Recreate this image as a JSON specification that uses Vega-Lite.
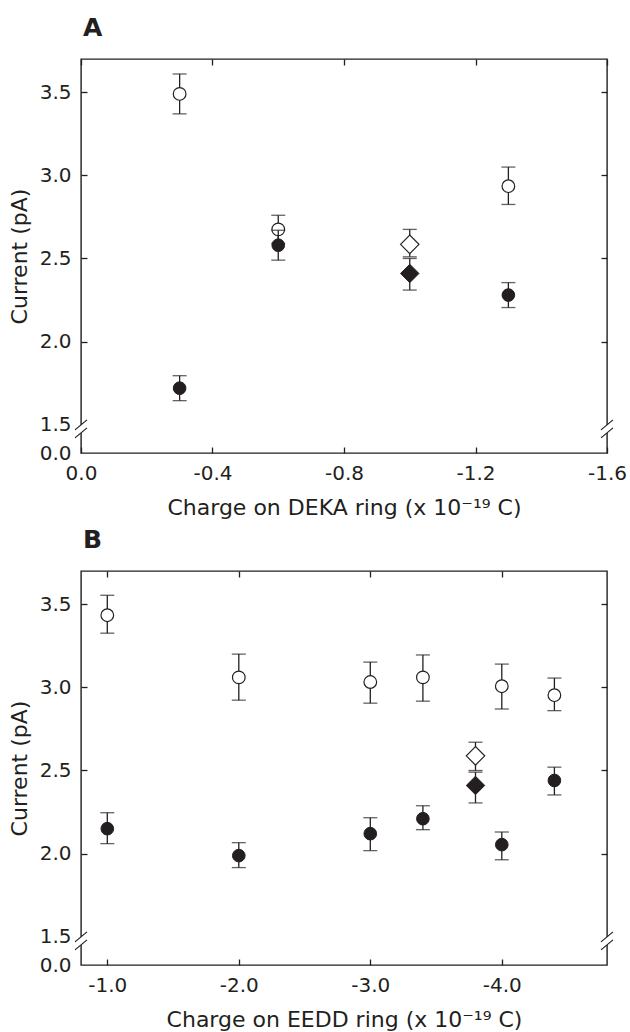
{
  "$schema": "https://vega.github.io/schema/vega-lite/v6.json",
  "padding": {"left": 7, "top": 15, "right": 5, "bottom": 0},
  "spacing": 8,
  "datasets": {
    "pts": [
      {"panel": "A", "x": -0.3, "cur": 3.49, "lo": 3.37, "hi": 3.61, "fill": "open", "shape": "circle"},
      {"panel": "A", "x": -0.6, "cur": 2.675, "lo": 2.59, "hi": 2.76, "fill": "open", "shape": "circle"},
      {"panel": "A", "x": -1.0, "cur": 2.585, "lo": 2.51, "hi": 2.675, "fill": "open", "shape": "diamond"},
      {"panel": "A", "x": -1.3, "cur": 2.935, "lo": 2.825, "hi": 3.05, "fill": "open", "shape": "circle"},
      {"panel": "A", "x": -0.3, "cur": 1.72, "lo": 1.645, "hi": 1.795, "fill": "closed", "shape": "circle"},
      {"panel": "A", "x": -0.6, "cur": 2.58, "lo": 2.49, "hi": 2.67, "fill": "closed", "shape": "circle"},
      {"panel": "A", "x": -1.0, "cur": 2.41, "lo": 2.31, "hi": 2.5, "fill": "closed", "shape": "diamond"},
      {"panel": "A", "x": -1.3, "cur": 2.28, "lo": 2.205, "hi": 2.355, "fill": "closed", "shape": "circle"},
      {"panel": "B", "x": -1.0, "cur": 3.434, "lo": 3.326, "hi": 3.554, "fill": "open", "shape": "circle"},
      {"panel": "B", "x": -2.0, "cur": 3.06, "lo": 2.923, "hi": 3.2, "fill": "open", "shape": "circle"},
      {"panel": "B", "x": -3.0, "cur": 3.032, "lo": 2.905, "hi": 3.152, "fill": "open", "shape": "circle"},
      {"panel": "B", "x": -3.4, "cur": 3.06, "lo": 2.917, "hi": 3.195, "fill": "open", "shape": "circle"},
      {"panel": "B", "x": -3.8, "cur": 2.588, "lo": 2.5, "hi": 2.67, "fill": "open", "shape": "diamond"},
      {"panel": "B", "x": -4.0, "cur": 3.007, "lo": 2.87, "hi": 3.14, "fill": "open", "shape": "circle"},
      {"panel": "B", "x": -4.4, "cur": 2.953, "lo": 2.86, "hi": 3.056, "fill": "open", "shape": "circle"},
      {"panel": "B", "x": -1.0, "cur": 2.15, "lo": 2.06, "hi": 2.246, "fill": "closed", "shape": "circle"},
      {"panel": "B", "x": -2.0, "cur": 1.988, "lo": 1.916, "hi": 2.066, "fill": "closed", "shape": "circle"},
      {"panel": "B", "x": -3.0, "cur": 2.12, "lo": 2.018, "hi": 2.216, "fill": "closed", "shape": "circle"},
      {"panel": "B", "x": -3.4, "cur": 2.21, "lo": 2.144, "hi": 2.288, "fill": "closed", "shape": "circle"},
      {"panel": "B", "x": -3.8, "cur": 2.41, "lo": 2.305, "hi": 2.49, "fill": "closed", "shape": "diamond"},
      {"panel": "B", "x": -4.0, "cur": 2.054, "lo": 1.963, "hi": 2.13, "fill": "closed", "shape": "circle"},
      {"panel": "B", "x": -4.4, "cur": 2.44, "lo": 2.353, "hi": 2.52, "fill": "closed", "shape": "circle"}
    ],
    "breaks": [
      {"panel": "A", "x": 0, "y": 1.475},
      {"panel": "A", "x": -1.6, "y": 1.475},
      {"panel": "B", "x": -0.8, "y": 1.475},
      {"panel": "B", "x": -4.8, "y": 1.475}
    ]
  },
  "vconcat": [
    {
      "width": 526,
      "height": 394,
      "title": {"text": "A", "anchor": "start", "frame": "group", "font": "DejaVu Sans", "fontSize": 25, "fontWeight": "bold", "color": "#231f20", "offset": -3, "baseline": "alphabetic", "dx": 2},
      "resolve": {"axis": {"x": "independent", "y": "independent"}},
      "layer": [
        {
          "data": {"name": "pts"},
          "transform": [{"filter": "datum.panel == 'A' && datum.fill == 'open'"}],
          "mark": {"type": "errorbar", "ticks": {"size": 14}, "color": "#231f20", "thickness": 1.3},
          "encoding": {
            "x": {"field": "x", "type": "quantitative", "scale": {"domain": [0, -1.6], "nice": false, "zero": false}, "axis": null},
            "y": {"field": "lo", "type": "quantitative", "scale": {"domain": [1.33, 3.7], "nice": false, "zero": false}, "axis": null},
            "y2": {"field": "hi"}
          }
        },
        {
          "data": {"name": "pts"},
          "transform": [{"filter": "datum.panel == 'A' && datum.fill == 'open'"}],
          "mark": {"type": "point", "filled": true, "fill": "white", "stroke": "#231f20", "strokeWidth": 1.2, "opacity": 1},
          "encoding": {
            "x": {"field": "x", "type": "quantitative", "scale": {"domain": [0, -1.6], "nice": false, "zero": false},
              "axis": {"orient": "bottom", "values": [0, -0.4, -0.8, -1.2, -1.6], "labelExpr": "datum.value == 0 ? '0.0' : '-' + format(-datum.value, '.1f')", "labelPadding": 16, "title": "Charge on DEKA ring (x 10⁻¹⁹ C)", "titlePadding": 14}},
            "y": {"field": "cur", "type": "quantitative", "scale": {"domain": [1.33, 3.7], "nice": false, "zero": false},
              "axis": {"orient": "left", "values": [1.33, 1.5, 2.0, 2.5, 3.0, 3.5], "labelExpr": "datum.value < 1.4 ? '0.0' : format(datum.value, '.1f')", "tickOpacity": {"condition": {"test": "datum.value < 1.6", "value": 0}, "value": 1}, "labelPadding": 16, "title": "Current (pA)", "titlePadding": 8}},
            "shape": {"field": "shape", "type": "nominal", "scale": {"domain": ["circle", "diamond"], "range": ["circle", "diamond"]}, "legend": null},
            "size": {"field": "shape", "type": "ordinal", "scale": {"domain": ["circle", "diamond"], "range": [160, 340]}, "legend": null}
          }
        },
        {
          "data": {"name": "pts"},
          "transform": [{"filter": "datum.panel == 'A' && datum.fill == 'closed'"}],
          "mark": {"type": "errorbar", "ticks": {"size": 14}, "color": "#231f20", "thickness": 1.3},
          "encoding": {
            "x": {"field": "x", "type": "quantitative", "scale": {"domain": [0, -1.6], "nice": false, "zero": false}, "axis": null},
            "y": {"field": "lo", "type": "quantitative", "scale": {"domain": [1.33, 3.7], "nice": false, "zero": false}, "axis": null},
            "y2": {"field": "hi"}
          }
        },
        {
          "data": {"name": "pts"},
          "transform": [{"filter": "datum.panel == 'A' && datum.fill == 'closed'"}],
          "mark": {"type": "point", "filled": true, "fill": "#231f20", "stroke": "#231f20", "strokeWidth": 1, "opacity": 1},
          "encoding": {
            "x": {"field": "x", "type": "quantitative", "scale": {"domain": [0, -1.6], "nice": false, "zero": false},
              "axis": {"orient": "top", "values": [0, -0.4, -0.8, -1.2, -1.6], "labels": false, "title": null, "minExtent": 0, "maxExtent": 0}},
            "y": {"field": "cur", "type": "quantitative", "scale": {"domain": [1.33, 3.7], "nice": false, "zero": false},
              "axis": {"orient": "right", "values": [2.0, 2.5, 3.0, 3.5], "labels": false, "title": null, "minExtent": 0, "maxExtent": 0}},
            "shape": {"field": "shape", "type": "nominal", "scale": {"domain": ["circle", "diamond"], "range": ["circle", "diamond"]}, "legend": null},
            "size": {"field": "shape", "type": "ordinal", "scale": {"domain": ["circle", "diamond"], "range": [150, 340]}, "legend": null}
          }
        },
        {
          "data": {"name": "breaks"},
          "transform": [{"filter": "datum.panel == 'A'"}],
          "mark": {"type": "point", "shape": "M-0.3,-0.15L0.3,-0.65L0.3,0.15L-0.3,0.65Z", "filled": true, "fill": "white", "strokeWidth": 0, "size": 400, "opacity": 1},
          "encoding": {
            "x": {"field": "x", "type": "quantitative", "scale": {"domain": [0, -1.6], "nice": false, "zero": false}, "axis": null},
            "y": {"field": "y", "type": "quantitative", "scale": {"domain": [1.33, 3.7], "nice": false, "zero": false}, "axis": null}
          }
        },
        {
          "data": {"name": "breaks"},
          "transform": [{"filter": "datum.panel == 'A'"}],
          "mark": {"type": "point", "shape": "M-0.6,0.1L0.6,-0.9M-0.6,0.9L0.6,-0.1", "filled": false, "stroke": "#231f20", "strokeWidth": 1.2, "size": 400, "opacity": 1},
          "encoding": {
            "x": {"field": "x", "type": "quantitative", "scale": {"domain": [0, -1.6], "nice": false, "zero": false}, "axis": null},
            "y": {"field": "y", "type": "quantitative", "scale": {"domain": [1.33, 3.7], "nice": false, "zero": false}, "axis": null}
          }
        }
      ]
    },
    {
      "width": 526,
      "height": 394,
      "title": {"text": "B", "anchor": "start", "frame": "group", "font": "DejaVu Sans", "fontSize": 25, "fontWeight": "bold", "color": "#231f20", "offset": -3, "baseline": "alphabetic", "dx": 2},
      "resolve": {"axis": {"x": "independent", "y": "independent"}},
      "layer": [
        {
          "data": {"name": "pts"},
          "transform": [{"filter": "datum.panel == 'B' && datum.fill == 'open'"}],
          "mark": {"type": "errorbar", "ticks": {"size": 14}, "color": "#231f20", "thickness": 1.3},
          "encoding": {
            "x": {"field": "x", "type": "quantitative", "scale": {"domain": [-0.8, -4.8], "nice": false, "zero": false}, "axis": null},
            "y": {"field": "lo", "type": "quantitative", "scale": {"domain": [1.33, 3.7], "nice": false, "zero": false}, "axis": null},
            "y2": {"field": "hi"}
          }
        },
        {
          "data": {"name": "pts"},
          "transform": [{"filter": "datum.panel == 'B' && datum.fill == 'open'"}],
          "mark": {"type": "point", "filled": true, "fill": "white", "stroke": "#231f20", "strokeWidth": 1.2, "opacity": 1},
          "encoding": {
            "x": {"field": "x", "type": "quantitative", "scale": {"domain": [-0.8, -4.8], "nice": false, "zero": false},
              "axis": {"orient": "bottom", "values": [-1, -2, -3, -4], "labelExpr": "'-' + format(-datum.value, '.1f')", "labelPadding": 16, "title": "Charge on EEDD ring (x 10⁻¹⁹ C)", "titlePadding": 14}},
            "y": {"field": "cur", "type": "quantitative", "scale": {"domain": [1.33, 3.7], "nice": false, "zero": false},
              "axis": {"orient": "left", "values": [1.33, 1.5, 2.0, 2.5, 3.0, 3.5], "labelExpr": "datum.value < 1.4 ? '0.0' : format(datum.value, '.1f')", "tickOpacity": {"condition": {"test": "datum.value < 1.6", "value": 0}, "value": 1}, "labelPadding": 16, "title": "Current (pA)", "titlePadding": 8}},
            "shape": {"field": "shape", "type": "nominal", "scale": {"domain": ["circle", "diamond"], "range": ["circle", "diamond"]}, "legend": null},
            "size": {"field": "shape", "type": "ordinal", "scale": {"domain": ["circle", "diamond"], "range": [160, 340]}, "legend": null}
          }
        },
        {
          "data": {"name": "pts"},
          "transform": [{"filter": "datum.panel == 'B' && datum.fill == 'closed'"}],
          "mark": {"type": "errorbar", "ticks": {"size": 14}, "color": "#231f20", "thickness": 1.3},
          "encoding": {
            "x": {"field": "x", "type": "quantitative", "scale": {"domain": [-0.8, -4.8], "nice": false, "zero": false}, "axis": null},
            "y": {"field": "lo", "type": "quantitative", "scale": {"domain": [1.33, 3.7], "nice": false, "zero": false}, "axis": null},
            "y2": {"field": "hi"}
          }
        },
        {
          "data": {"name": "pts"},
          "transform": [{"filter": "datum.panel == 'B' && datum.fill == 'closed'"}],
          "mark": {"type": "point", "filled": true, "fill": "#231f20", "stroke": "#231f20", "strokeWidth": 1, "opacity": 1},
          "encoding": {
            "x": {"field": "x", "type": "quantitative", "scale": {"domain": [-0.8, -4.8], "nice": false, "zero": false},
              "axis": {"orient": "top", "values": [-1, -2, -3, -4], "labels": false, "title": null, "minExtent": 0, "maxExtent": 0}},
            "y": {"field": "cur", "type": "quantitative", "scale": {"domain": [1.33, 3.7], "nice": false, "zero": false},
              "axis": {"orient": "right", "values": [2.0, 2.5, 3.0, 3.5], "labels": false, "title": null, "minExtent": 0, "maxExtent": 0}},
            "shape": {"field": "shape", "type": "nominal", "scale": {"domain": ["circle", "diamond"], "range": ["circle", "diamond"]}, "legend": null},
            "size": {"field": "shape", "type": "ordinal", "scale": {"domain": ["circle", "diamond"], "range": [150, 340]}, "legend": null}
          }
        },
        {
          "data": {"name": "breaks"},
          "transform": [{"filter": "datum.panel == 'B'"}],
          "mark": {"type": "point", "shape": "M-0.3,-0.15L0.3,-0.65L0.3,0.15L-0.3,0.65Z", "filled": true, "fill": "white", "strokeWidth": 0, "size": 400, "opacity": 1},
          "encoding": {
            "x": {"field": "x", "type": "quantitative", "scale": {"domain": [-0.8, -4.8], "nice": false, "zero": false}, "axis": null},
            "y": {"field": "y", "type": "quantitative", "scale": {"domain": [1.33, 3.7], "nice": false, "zero": false}, "axis": null}
          }
        },
        {
          "data": {"name": "breaks"},
          "transform": [{"filter": "datum.panel == 'B'"}],
          "mark": {"type": "point", "shape": "M-0.6,0.1L0.6,-0.9M-0.6,0.9L0.6,-0.1", "filled": false, "stroke": "#231f20", "strokeWidth": 1.2, "size": 400, "opacity": 1},
          "encoding": {
            "x": {"field": "x", "type": "quantitative", "scale": {"domain": [-0.8, -4.8], "nice": false, "zero": false}, "axis": null},
            "y": {"field": "y", "type": "quantitative", "scale": {"domain": [1.33, 3.7], "nice": false, "zero": false}, "axis": null}
          }
        }
      ]
    }
  ],
  "config": {
    "view": {"stroke": "#231f20", "strokeWidth": 1.4},
    "axis": {
      "domain": false, "grid": false, "tickSize": -6, "tickColor": "#231f20", "tickWidth": 1.3,
      "labelFont": "DejaVu Sans", "labelFontSize": 20, "labelColor": "#231f20",
      "titleFont": "DejaVu Sans", "titleFontSize": 22, "titleFontWeight": "normal", "titleColor": "#231f20",
      "labelFlush": false, "labelOverlap": false
    }
  }
}
